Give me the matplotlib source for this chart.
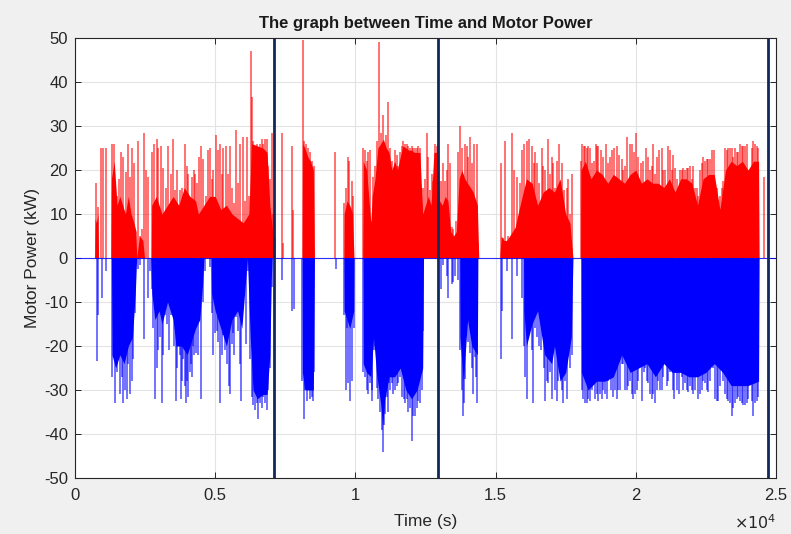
import numpy as np
import matplotlib
matplotlib.use("Agg")
import matplotlib.pyplot as plt

plt.rcParams['font.family'] = ['Liberation Sans', 'DejaVu Sans']
plt.rcParams['axes.unicode_minus'] = False

# positive spikes (time s, power kW)
pos_t = [749, 808, 915, 987, 1106, 1308, 1391, 1486, 1569, 1641, 1724, 1807, 1902, 1962, 2045, 2116,
         2235, 2319, 2378, 2449, 2521, 2592, 2735, 2818, 2925, 2973, 3068, 3151, 3234, 3329, 3412, 3484,
         3567, 3626, 3745, 3829, 3924, 3983, 4043, 4162, 4233,
         4279, 4350, 4422, 4493, 4576, 4671, 4755, 4814, 4874, 4933, 5016, 5088, 5171, 5230, 5290, 5373,
         5444, 5528, 5587, 5682, 5753, 5825, 5896, 5979, 6063, 6122, 6205, 6277, 6300, 6360, 6419, 6479,
         6538, 6598, 6657, 6716, 6776, 6835, 6895, 6954, 7014, 7061, 7133, 7394, 7430, 7727, 7775, 8120,
         8167, 8227, 8298, 8381, 8464, 8535,
         9271, 9604, 9652, 9723, 9771, 9866, 9925, 10282, 10342, 10401, 10460, 10520, 10579, 10639, 10698,
         10758, 10853, 10912, 10995, 11079, 11150, 11233, 11317, 11412, 11471, 11531, 11590, 11649, 11709,
         11768, 11828, 11887, 11947, 12006, 12066, 12125, 12185, 12244, 12303, 12363, 12422, 12482, 12541,
         12601, 12660, 12720, 12779,
         12838, 12897, 12957, 13052, 13135, 13195, 13254, 13314, 13373, 13433, 13492, 13575, 13670, 13730,
         13813, 13908, 13968, 14027, 14086, 14146, 14241, 14324, 14384,
         15192, 15275, 15335, 15430, 15573, 15668, 15751, 15870, 15953, 16025, 16108, 16203, 16286, 16357,
         16405, 16464, 16548, 16643, 16702, 16762, 16857, 16940, 16999, 17059,
         17117, 17176, 17260, 17355, 17450, 17533, 17593, 17652, 17735,
         18044, 18092, 18151, 18187, 18246, 18306, 18365, 18449, 18520, 18568, 18627, 18663, 18746, 18841,
         18924, 19019, 19079, 19138, 19209, 19316, 19400, 19495, 19554, 19614, 19697, 19792, 19876, 19935,
         19994, 20089, 20184, 20268, 20351, 20446, 20506, 20565, 20625, 20684, 20743, 20827, 20922, 20981,
         21040, 21136, 21219, 21278, 21338,
         21396, 21456, 21515, 21575, 21634, 21694, 21753, 21812, 21872, 21931, 21991, 22050, 22110, 22169,
         22229, 22288, 22348, 22407, 22466, 22526, 22585, 22645, 22728, 22799, 22883, 22942, 23002, 23061,
         23120, 23180, 23239, 23299, 23358, 23418, 23477, 23537, 23596, 23655, 23715, 23774, 23834, 23893,
         23953, 24012, 24072, 24131, 24191, 24250, 24310, 24369, 24583]
pos_v = [17, 11.5, 25, 25, 25, 26, 26, 14, 18, 24, 23, 19.5, 26, 18.5, 25, 21.5,
         26.5, 5, 6.5, 28.5, 20, 18.5, 24, 26, 27, 25, 25.5, 20.5, 16, 25.5, 19, 27,
         15.5, 20, 15.5, 16, 26, 21, 19, 18.5, 20,
         19, 17, 23, 25.5, 22.5, 14, 24.5, 25, 18, 20, 28, 24.5, 26, 19, 25, 25.5,
         19, 25.5, 16, 12.5, 29, 17, 26, 27.5, 13, 27.5, 14, 47, 36.5, 26.5, 25.5, 26,
         25, 26, 27, 26, 27, 27, 21, 18, 28.5, 10, 4.5, 28.5, 3.5, 25.5, 11, 49.5,
         26.5, 26, 25, 24, 22, 21,
         24, 12.5, 16, 23, 22, 17.5, 14, 25, 24.5, 22, 24, 24.5, 8.5, 18.5, 21,
         26.5, 49, 28.5, 32.5, 28, 35.5, 25, 22, 24.5, 23.5, 21, 24, 25.5, 26.5,
         26, 26, 25.5, 25, 25.5, 25, 25, 25, 25.5, 25, 12.5, 16, 18, 28.5,
         23, 15.5, 19, 17.5,
         26, 25.5, 26, 17.5, 21.5, 17.5, 20, 26, 21.5, 7, 6.5, 8.5, 24, 30,
         25, 26, 25.5, 23, 27.5, 21.5, 26, 26, 3.5,
         21.5, 4.5, 26.5, 5, 28.5, 20, 18.5, 17, 24.5, 26, 26.5, 27, 25.5, 21.5,
         24, 21.5, 17, 25, 21, 20, 27, 19, 23, 21.5,
         16, 22, 26, 21.5, 15.5, 16, 18, 10, 19,
         22, 26, 25.5, 25.5, 25, 25.5, 25, 21.5, 22, 26, 25.5, 25.5, 24.5, 23,
         26, 21.5, 23, 24.5, 25, 25.5, 23.5, 22.5, 20, 21, 27.5, 26, 26, 24,
         28.5, 23, 21.5, 22, 25, 23, 20, 21, 26, 19, 23, 24.5, 25, 20,
         20, 25.5, 24.5, 20, 23.5,
         20.5, 18, 16, 20, 20, 20.5, 20, 20.5, 20.5, 21, 18, 21, 16, 16,
         14, 20, 21.5, 23, 22, 22.5, 22.5, 22.5, 24.5, 24.5, 16, 13, 14, 16,
         17.5, 25, 24.5, 25, 25, 25, 23, 25, 24, 24, 26, 25.5, 25.5, 25.5,
         26, 20, 18, 25, 26.5, 26, 25.5, 25, 18.5]

# negative spikes (time s, power kW)
neg_t = [785, 832, 951, 1106, 1332, 1427, 1486, 1546, 1605, 1665, 1724, 1784, 1843, 1902, 1962, 2021,
         2081, 2140, 2235, 2319, 2461, 2592, 2675, 2735, 2794, 2854, 2913, 2949, 3032, 3091, 3151, 3210,
         3282, 3353, 3412, 3472, 3531, 3591, 3638, 3686, 3733, 3781, 3829, 3864, 3912, 3959, 4007, 4043,
         4090, 4138, 4185, 4221, 4257,
         4315, 4398, 4493, 4576, 4636, 4814, 4874, 4933, 4992, 5052, 5111, 5171, 5230, 5290, 5349, 5432,
         5480, 5528, 5587, 5634, 5682, 5753, 5825, 5872, 5920, 6003, 6086, 6181, 6253, 6300, 6360, 6419,
         6479, 6538, 6598, 6657, 6716, 6776, 6835, 6895, 6954, 7014, 7394, 7751, 7799, 8107, 8155, 8203,
         8262, 8322, 8381, 8440, 8500, 8535,
         9295, 9604, 9652, 9700, 9747, 9818, 9890, 9937, 10282, 10342, 10401, 10437, 10484, 10520, 10579,
         10603, 10651, 10698, 10758, 10817, 10876, 10936, 10972, 11019, 11055, 11114, 11150, 11198, 11245,
         11293, 11352, 11412, 11471, 11531, 11602, 11673, 11721, 11768, 11828, 11887, 11947, 12006, 12066,
         12125, 12185, 12244, 12303, 12363, 12422,
         13052, 13135, 13254, 13314, 13433, 13492, 13551, 13670, 13730, 13789, 13849, 13884, 13908, 13968,
         14027, 14086, 14146, 14205, 14265, 14312, 14348,
         15180, 15216, 15394, 15597, 15751, 15953, 16001, 16049, 16108, 16167, 16203, 16286, 16345, 16405,
         16464, 16500, 16548, 16619, 16667, 16714, 16762, 16821, 16880, 16940, 16999, 17059,
         17117, 17176, 17236, 17295, 17355, 17414, 17474, 17533, 17593, 17652, 17735,
         18068, 18128, 18187, 18246, 18306, 18365, 18425, 18473, 18544, 18603, 18663, 18722, 18782, 18841,
         18901, 18960, 19019, 19114, 19198, 19257, 19316, 19376, 19435, 19495, 19554, 19614, 19674, 19733,
         19792, 19852, 19911, 19971, 20030, 20089, 20149, 20232, 20280, 20327, 20387, 20446, 20506, 20565,
         20625, 20684, 20743, 20803, 20862, 20922, 20981, 21040, 21100, 21159, 21219, 21278, 21338,
         21361, 21456, 21551, 21634, 21694, 21753, 21812, 21872, 21931, 21991, 22050, 22110, 22229, 22288,
         22348, 22407, 22466, 22526, 22585, 22645, 22740, 22823, 22883, 22942, 23002, 23097, 23180, 23239,
         23299, 23358, 23418, 23477, 23537, 23596, 23655, 23715, 23774, 23834, 23893, 23953, 24012, 24131,
         24191, 24250, 24310, 24369]
neg_v = [-23.5, -13, -9, -3, -27, -33, -26, -20, -31, -27, -33, -30, -32, -24, -31, -28,
         -23, -12.5, -2.5, -1.5, -18.5, -9, -3, -7, -16, -32, -25, -21, -18, -33, -22, -13,
         -15, -21, -13, -10, -20, -32.5, -25, -16, -22, -32, -28, -23, -29, -33, -28, -31.5,
         -26, -24, -27, -20, -22,
         -21.5, -22, -32, -10, -3, -2, -12.5, -22, -17, -16.5, -19, -33, -22, -17.5, -21, -24,
         -29, -31, -19.5, -17, -22, -13.5, -16.5, -24, -32.5, -11, -19.5, -3, -23, -31.5, -33.5, -34.5,
         -33, -36.5, -33, -34, -31.5, -33, -34.5, -30, -25, -6.5, -5, -12, -11.5, -28, -36.5, -30,
         -32.5, -30, -32, -31.5, -32.5, -26,
         -2.5, -13, -30, -16, -28.5, -32.5, -28, -16, -26, -27, -30, -31, -24, -28.5, -30,
         -32.5, -21, -20, -29.5, -32, -35, -39, -44, -38, -35.5, -31.5, -35, -28.5, -30,
         -28.5, -31, -30, -29, -28.5, -27, -31.5, -32, -33, -32, -35, -34, -41.5, -36,
         -36, -34, -32.5, -33, -30, -16.5,
         -7, -1.5, -4, -9, -6, -5.5, -4, -5, -21, -30, -36, -33, -27.5, -15,
         -19, -21.5, -25, -31, -22.5, -27, -33,
         -23, -12, -3, -18.5, -4, -9, -20, -27, -32, -18, -13, -21, -33, -16,
         -18, -10, -20, -21, -15, -25, -32.5, -28, -28.5, -26, -32, -16,
         -30, -32.5, -28, -24, -30, -33, -28, -32, -19.5, -25, -22,
         -30, -32, -33, -33, -32, -32.5, -30, -22, -32, -31, -32.5, -31, -32, -30,
         -31, -32, -28, -30, -31.5, -30, -32, -30, -30, -24, -24, -30, -30, -29,
         -28, -31, -32, -31, -30, -28, -24, -32.5, -26, -25, -28, -28.5, -31, -32,
         -31, -33, -30, -28, -30, -30, -27, -24, -29, -28, -26, -25, -30,
         -32, -30, -31, -27, -30, -28.5, -30, -30.5, -29, -30, -31, -30, -32, -31,
         -30, -28, -28.5, -30, -30.5, -28, -25, -32, -32.5, -32.5, -29, -28, -31, -32,
         -32.5, -33, -36, -34, -33, -32, -31.5, -32.5, -33, -33.5, -33.5, -33, -32, -32.5,
         -36, -33, -32.5, -31.5]

# solid core of the dense regions (positive side)
core_pos_t = [700, 720, 760, 820, 840, 1280, 1300, 1400, 1500, 1600, 1700, 1800, 1900, 2000, 2100, 2180,
              2200, 2300, 2420, 2480, 2720, 2735, 2900, 3100, 3300, 3500, 3700, 3900, 4100, 4300, 4400,
              4600, 4800, 5000, 5200, 5400, 5600, 5800, 6000, 6200, 6300, 6500, 6700, 6850, 6950, 7050,
              7100, 7120, 8100, 8120, 8200, 8300, 8400, 8500, 8540, 9590, 9600, 9700, 9800, 9900, 9950,
              10260, 10280, 10400, 10550, 10600, 10700, 10800, 10900, 11000, 11100, 11200, 11300, 11400,
              11500, 11600, 11700, 11800, 11900, 12000, 12100, 12200, 12300, 12400, 12500, 12600, 12700,
              12800, 12950, 13000, 13100, 13200, 13300, 13400, 13500, 13600, 13700, 13800, 13900, 14000,
              14100, 14200, 14350, 14400, 15150, 15200, 15300, 15400, 15500, 15600, 15700, 15800, 15950,
              16100, 16300, 16500, 16700, 16900, 17100, 17300, 17500, 17650, 17760, 18030, 18050, 18200,
              18400, 18600, 18800, 19000, 19200, 19400, 19600, 19800, 20000, 20200, 20400, 20600, 20800,
              21000, 21200, 21400, 21600, 21800, 22000, 22200, 22400, 22600, 22800, 23000, 23200, 23400,
              23600, 23800, 24000, 24200, 24380, 24400]
core_pos = [0, 9, 8, 10, 0, 0, 18, 22, 12, 14, 12, 10, 14, 10, 8, 6,
            0, 5, 4, 0, 0, 12, 14, 10, 12, 14, 12, 16, 14, 13, 10,
            12, 14, 14, 11, 12, 10, 9, 8, 10, 26, 25.5, 25, 24, 12, 6,
            2, 0, 0, 26, 25, 23, 22, 20, 0, 0, 10, 13, 12, 10, 0,
            0, 22, 20, 8, 14, 18, 25, 26, 27, 25, 24, 20, 22,
            20, 23, 25.5, 25, 24.5, 24.5, 24, 24, 24, 10, 12, 14, 12,
            24, 24, 13, 12, 14, 13, 6, 5, 6, 18, 20, 18, 17,
            16, 15, 12, 0, 0, 5, 4, 4, 5, 6, 7, 10, 14,
            18, 17, 12, 15, 16, 15, 18, 10, 8, 0, 0, 20, 22,
            18, 20, 19, 17, 19, 18, 17, 19, 20, 17, 18, 17, 17,
            16, 18, 15, 18, 18, 17, 12, 18, 19, 19, 11, 20, 22,
            21, 22, 20, 22, 22, 0]

# solid core of the dense regions (negative side)
core_neg_t = [1300, 1320, 1450, 1600, 1750, 1900, 2050, 2150, 2200, 2700, 2740, 2850, 3000, 3100, 3300,
              3500, 3600, 3800, 4000, 4200, 4300, 4450, 4550, 4600, 4850, 4870, 5000, 5200, 5400, 5600,
              5800, 5950, 6050, 6150, 6250, 6350, 6500, 6700, 6850, 6950, 7000, 7030, 8100, 8110, 8200,
              8400, 8500, 8540, 9590, 9600, 9800, 9940, 9950, 10270, 10280, 10400, 10550, 10650, 10750,
              10900, 10970, 11050, 11200, 11400, 11600, 11800, 12000, 12200, 12400, 12430, 13720, 13730,
              13850, 14000, 14150, 14350, 14370, 16000, 16010, 16100, 16300, 16500, 16750, 17000, 17100,
              17300, 17500, 17700, 17760, 18050, 18060, 18300, 18600, 18900, 19200, 19500, 19800, 20100,
              20400, 20700, 21000, 21300, 21600, 21900, 22200, 22500, 22800, 23100, 23400, 23700, 24000,
              24380, 24400]
core_neg = [0, -22, -25, -22, -24, -20, -18, -8, 0, 0, -8, -14, -12, -15, -10,
            -14, -20, -20, -22, -18, -16, -14, -6, 0, 0, -8, -12, -16, -20, -14,
            -12, -16, -8, 0, -18, -30, -32, -31, -31, -22, -5, 0, 0, -26, -30,
            -30, -30, 0, 0, -12, -16, -12, 0, 0, -24, -26, -27, -18, -26,
            -33, -38, -32, -27, -27, -25, -30, -32, -30, -25, 0, 0, -18,
            -28, -14, -20, -22, 0, 0, -12, -20, -15, -12, -22, -24, -20,
            -28, -26, -18, 0, 0, -26, -30, -28, -28, -27, -22, -26, -25,
            -24, -27, -24, -26, -26, -27, -27, -26, -24, -26, -29, -29, -29,
            -28, 0]

marker_t = [7100, 12950, 24700]

fig = plt.figure(figsize=(7.91, 5.34), dpi=100, facecolor='#f0f0f0')
ax = fig.add_axes([0.0948, 0.1049, 0.8862, 0.8239])
ax.set_facecolor('white')

ax.fill_between(core_pos_t, 0, core_pos, color='red', lw=0)
ax.fill_between(core_neg_t, 0, core_neg, color='blue', lw=0)
ax.vlines(pos_t, 0, pos_v, color='red', lw=1.1, alpha=0.7)
ax.vlines(neg_t, 0, neg_v, color='blue', lw=1.1, alpha=0.7)
ax.axhline(0, color='blue', lw=0.8, alpha=0.8)
for t in marker_t:
    ax.axvline(t, color='#10285a', lw=2.0)

ax.set_xlim(0, 25000)
ax.set_ylim(-50, 50)
ax.set_xticks([0, 5000, 10000, 15000, 20000, 25000])
ax.set_xticklabels(['0', '0.5', '1', '1.5', '2', '2.5'])
ax.set_yticks(range(-50, 51, 10))
ax.grid(True, color='#e3e3e3', lw=0.8)
ax.set_axisbelow(True)
ax.tick_params(direction='in', top=True, right=True, colors='#262626', labelsize=12,
               length=4, width=0.7)
ax.tick_params(axis='x', pad=7)
ax.tick_params(axis='y', pad=5)
for s in ax.spines.values():
    s.set_color('#262626')
    s.set_linewidth(0.8)

ax.set_title('The graph between Time and Motor Power', fontsize=12, fontweight='bold',
             color='#1a1a1a', pad=7)
ax.set_xlabel('Time (s)', fontsize=12.5, color='#262626', labelpad=8)
ax.set_ylabel('Motor Power (kW)', fontsize=12.5, color='#262626', labelpad=3)
ax.text(1.0, -0.102, r'$\times10^{4}$', transform=ax.transAxes, ha='right', va='center',
        fontsize=11.5, color='#262626')

fig.savefig('out.png', dpi=100, facecolor=fig.get_facecolor())
